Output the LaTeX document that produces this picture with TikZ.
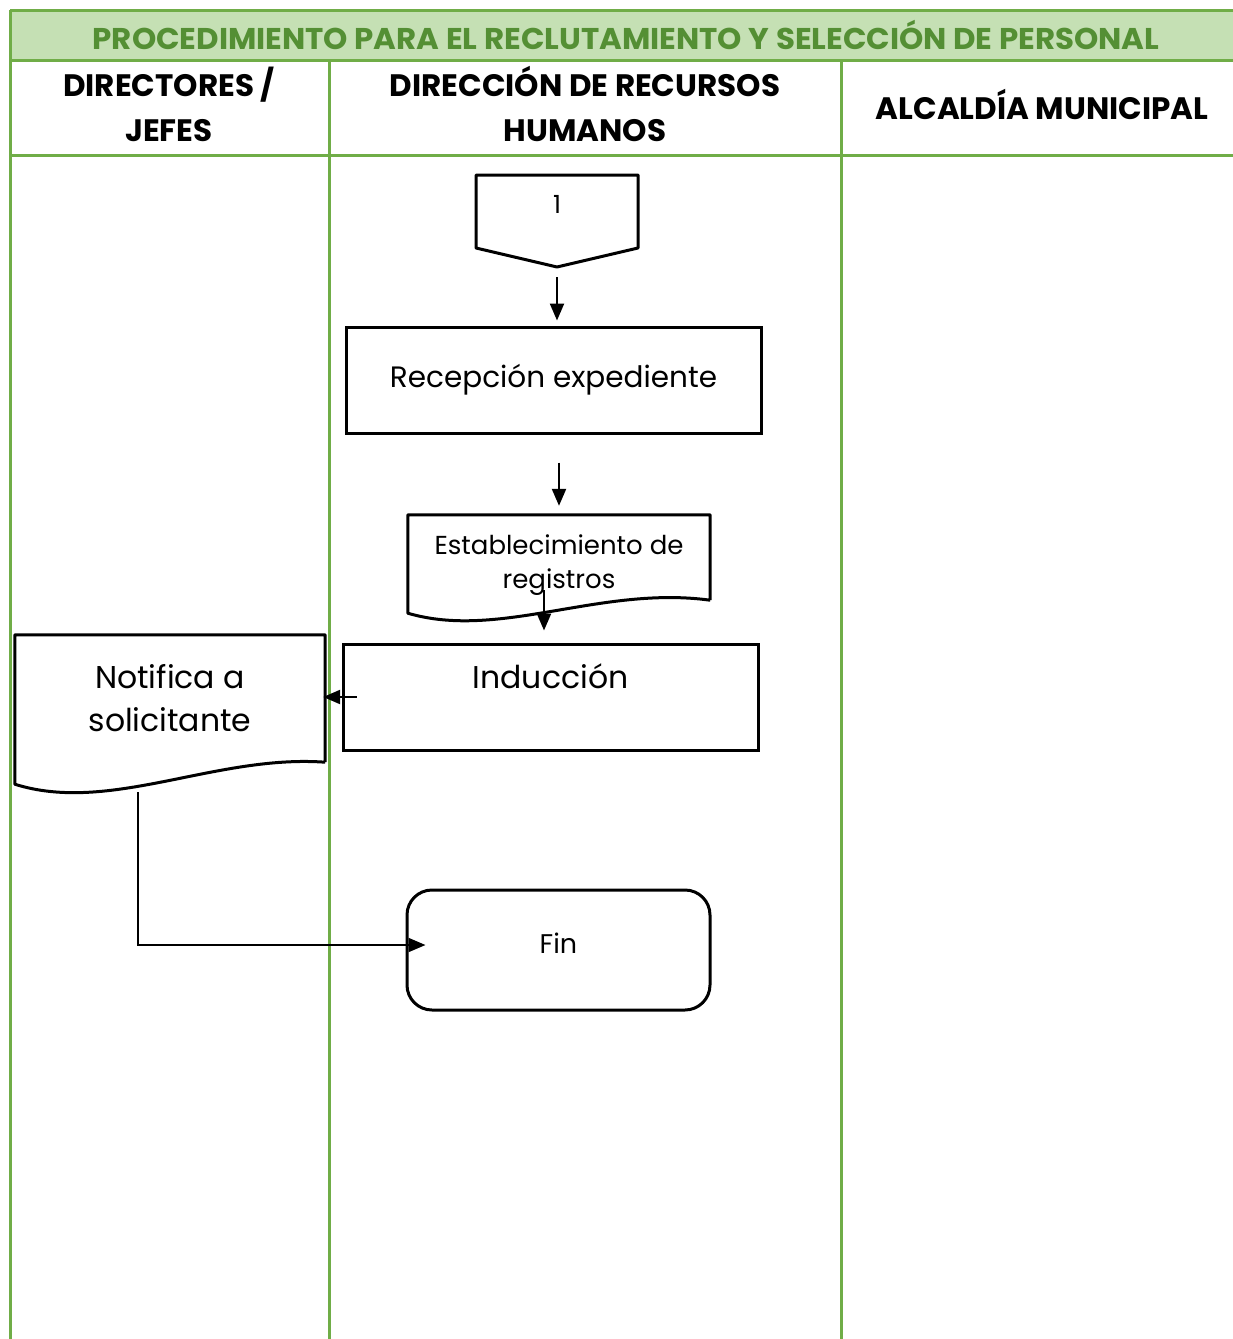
\documentclass[tikz,border=0pt]{standalone}
\usepackage{fontspec}
\setmainfont{Poppins}
\usetikzlibrary{positioning,arrows.meta,calc}
\definecolor{lanegreen}{HTML}{70AD47}
\definecolor{titlefill}{HTML}{C5E0B4}
\definecolor{titletext}{HTML}{548F34}
\tikzset{
  >={Triangle[length=17pt,width=14pt]},
}

\begin{document}
\begin{tikzpicture}[x=1pt, y=-1pt,
  lane/.style={draw=lanegreen, line width=3pt},
  hdr/.style={font=\bfseries\fontsize{31}{45}\selectfont, align=center},
  box/.style={draw, line width=3pt, minimum width=415pt, minimum height=106pt, align=center, inner sep=0pt},
  txt/.style={align=center, inner sep=0pt},
  outline/.style={draw, line width=3pt, line join=round},
  arr/.style={->, line width=2.3pt}
]
  \useasboundingbox (0,0) rectangle (1233,1339);

  % swimlane frame
  \fill[titlefill] (10,10) rectangle (1233,60);
  \draw[lane] (10,10) -- (1233,10);
  \draw[lane] (10,60) -- (1233,60);
  \draw[lane] (10,155) -- (1233,155);
  \draw[lane] (10,10) -- (10,1339);
  \draw[lane] (329,60) -- (329,1339);
  \draw[lane] (841,60) -- (841,1339);

  \node[font=\bfseries\fontsize{30}{34}\selectfont, text=titletext, xscale=1.03] (title) at (626,35)
    {PROCEDIMIENTO PARA EL RECLUTAMIENTO Y SELECCIÓN DE PERSONAL};
  \node[hdr] (hdir) at (169,104) {DIRECTORES /\\JEFES};
  \node[hdr] (hrrhh) at (585,104) {DIRECCIÓN DE RECURSOS\\HUMANOS};
  \node[hdr] (halc) at (1042,104) {ALCALDÍA MUNICIPAL};

  % off-page connector
  \node[txt, font=\fontsize{25}{30}\selectfont] (conn) at (557,204) {1};
  \coordinate (conntip) at (557,267);
  \draw[outline] (476,175) -- (638,175) -- (638,248) -- (conntip) -- (476,248) -- cycle;

  % process boxes
  \node[box, font=\fontsize{29.5}{34}\selectfont] (recep) at (553.5,380) {Recepción expediente};
  \node[txt, minimum width=302pt, minimum height=100pt, font=\fontsize{26}{34}\selectfont] (estab) at (559,565)
    {Establecimiento de\\registros};
  \draw[outline] ([yshift=15pt]estab.south east) -- (estab.north east) -- (estab.north west)
    -- ([yshift=2pt]estab.south west) .. controls +(92,27) and +(-110,-15) .. ([yshift=15pt]estab.south east);
  \node[box, font=\fontsize{31.5}{32}\selectfont] (induc) at (550.5,697) {Inducción\\\strut};
  \node[txt, minimum width=310pt, minimum height=127pt, font=\fontsize{31.5}{43}\selectfont] (notif) at (170,698.5)
    {Notifica a\\solicitante};
  \draw[outline] (notif.south east) -- (notif.north east) -- (notif.north west)
    -- ([yshift=-22pt]notif.south west) .. controls +(95,30) and +(-110,-8) .. (notif.south east);
  \node[box, rounded corners=25pt, minimum width=303pt, minimum height=120pt, font=\fontsize{27}{32}\selectfont] (fin) at (558.5,950) {\raisebox{13pt}{Fin}};

  % connectors
  \draw[arr, shorten <=10pt, shorten >=5pt] (conntip) -- (conntip |- recep.north);
  \draw[arr, shorten <=28pt, shorten >=9pt] (recep.south -| estab.north) -- (estab.north);
  \draw[arr, shorten >=12pt] ([xshift=-15pt,yshift=-25pt]estab.center) -- ([xshift=-15pt]estab.center |- induc.north);
  \draw[arr, shorten >=-2pt] ([xshift=15pt]induc.west) -- (induc.west -| notif.east);
  \draw[arr, line width=1.8pt] ([xshift=-32pt,yshift=-30pt]notif.south) |- ([xshift=20pt,yshift=5pt]fin.west);
\end{tikzpicture}
\end{document}
